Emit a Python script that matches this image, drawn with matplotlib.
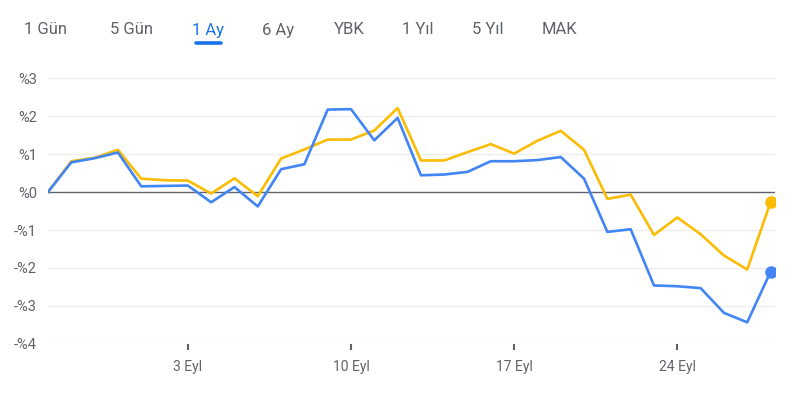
import matplotlib.pyplot as plt
from matplotlib import rcParams

rcParams['font.family'] = ['Roboto', 'DejaVu Sans']
rcParams['axes.unicode_minus'] = False

# daily points, 28 Aug .. 28 Sep
days = list(range(32))
blue = [0.0, 0.78, 0.89, 1.04, 0.15, 0.16, 0.17, -0.27, 0.13, -0.38,
        0.60, 0.73, 2.17, 2.18, 1.36, 1.95, 0.44, 0.46, 0.53, 0.81,
        0.81, 0.84, 0.92, 0.35, -1.05, -0.98, -2.46, -2.48, -2.53, -3.18,
        -3.43, -2.10]
yellow = [0.0, 0.81, 0.90, 1.11, 0.35, 0.31, 0.30, -0.04, 0.36, -0.11,
          0.88, 1.12, 1.38, 1.38, 1.62, 2.21, 0.83, 0.83, 1.05, 1.26,
          1.01, 1.35, 1.61, 1.11, -0.18, -0.07, -1.13, -0.67, -1.11, -1.67,
          -2.04, -0.27]
xtick_pos = [6, 13, 20, 27]
xtick_labels = ['3 Eyl', '10 Eyl', '17 Eyl', '24 Eyl']
ytick_vals = [3, 2, 1, 0, -1, -2, -3, -4]
ytick_labels = ['%3', '%2', '%1', '%0', '-%1', '-%2', '-%3', '-%4']
tabs = ['1 Gün', '5 Gün', '1 Ay', '6 Ay', 'YBK', '1 Yıl', '5 Yıl', 'MAK']
tab_x = [46, 131, 208, 278.5, 349.5, 418, 488, 559]

BLUE = '#4285F4'
YELLOW = '#FBBC04'
GREY = '#5f6368'

fig = plt.figure(figsize=(8, 3.93), dpi=100)
ax = fig.add_axes([0.06, 0.1247, 0.909, 0.6768])

for v in ytick_vals:
    if v != 0:
        ax.axhline(v, color='#eeeeee', lw=1, zorder=1)
ax.axhline(0, color=GREY, lw=1, zorder=2)

ax.plot(days, yellow, color=YELLOW, lw=1.9, zorder=3)
ax.plot(days, blue, color=BLUE, lw=1.9, zorder=4)
ax.plot(days[-1], yellow[-1], 'o', color=YELLOW, ms=8, zorder=5)
ax.plot(days[-1], blue[-1], 'o', color=BLUE, ms=8, zorder=5)

ax.set_xlim(0, 31.2)
ax.set_ylim(-4, 3)
ax.set_yticks(ytick_vals)
ax.set_yticklabels(ytick_labels)
ax.set_xticks(xtick_pos)
ax.set_xticklabels(xtick_labels)
ax.tick_params(axis='y', length=0, pad=8, labelsize=10.5, labelcolor=GREY)
ax.tick_params(axis='x', length=4.5, width=1.5, color=GREY, pad=7,
               labelsize=10, labelcolor=GREY)
for s in ax.spines.values():
    s.set_visible(False)

for t, x in zip(tabs, tab_x):
    col = '#1a73e8' if t == '1 Ay' else GREY
    fig.text(x / 800, 1 - 30 / 393, t, ha='center', va='center',
             fontsize=12, color=col)
fig.add_artist(plt.Line2D([196 / 800, 221 / 800], [1 - 43 / 393] * 2,
                          color='#1a73e8', lw=2.6, solid_capstyle='round'))

fig.savefig('out.png', dpi=100)
